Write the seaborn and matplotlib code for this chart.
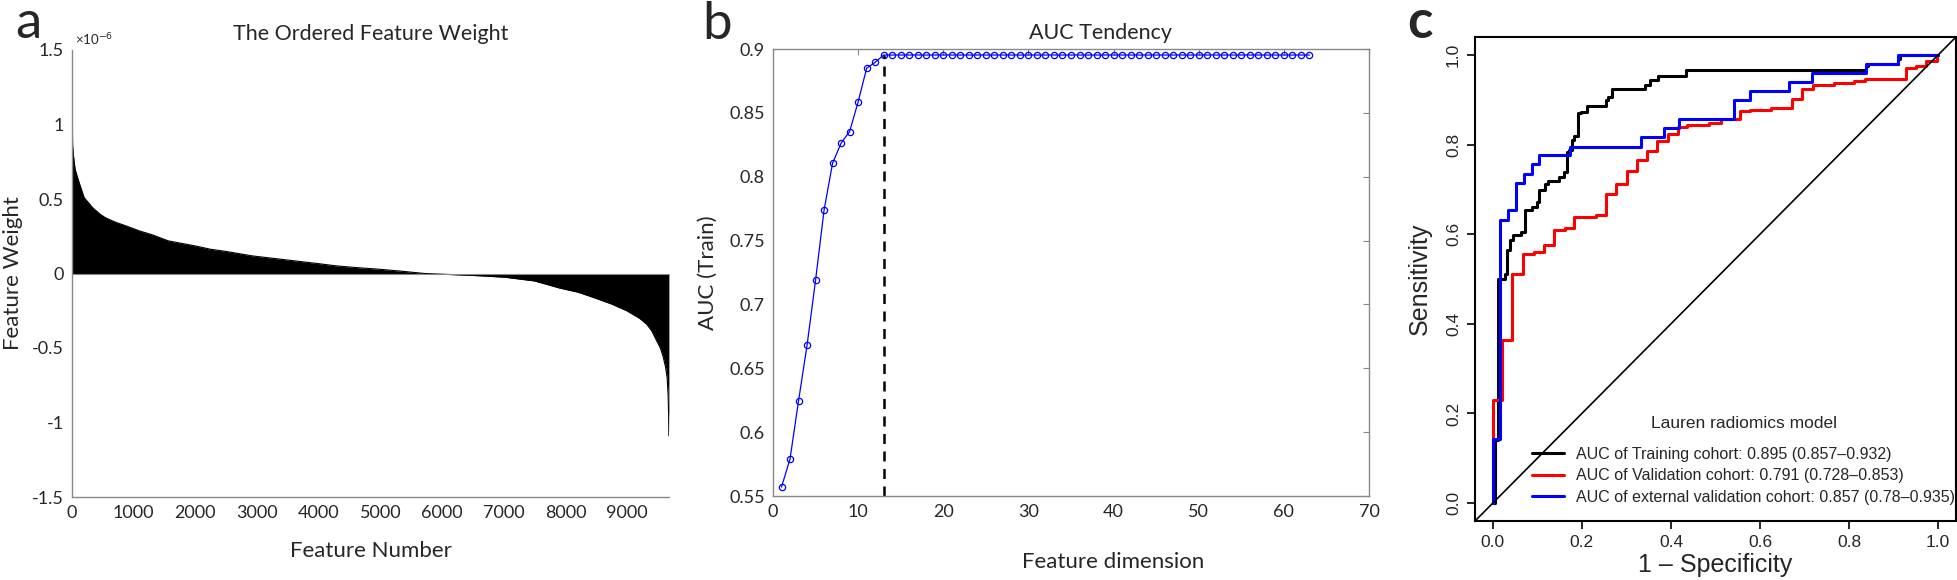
import numpy as np
import pandas as pd
import seaborn as sns
import matplotlib.pyplot as plt
from matplotlib.ticker import FuncFormatter, MultipleLocator
from matplotlib.lines import Line2D

# ---- panel a: ordered feature weights (unit 1e-6)
feat_idx = [0, 3, 10, 27, 50, 100, 197, 334, 450, 538, 700, 880, 1100, 1300,
            1562, 2000, 2243, 2500, 2926, 3300, 3608, 4000, 4290, 4600, 4972,
            5300, 5721, 6200, 6600, 7018, 7500, 7909, 8200, 8457, 8750, 8995,
            9200, 9317, 9400, 9478, 9540, 9586, 9625, 9650, 9666, 9674, 9678]
feat_w = [1.18, 1.05, 0.86, 0.777, 0.70, 0.63, 0.509, 0.442, 0.40, 0.375,
          0.345, 0.319, 0.285, 0.26, 0.219, 0.185, 0.163, 0.148, 0.118, 0.10,
          0.085, 0.066, 0.051, 0.040, 0.029, 0.017, 0.0, -0.008, -0.015,
          -0.025, -0.05, -0.098, -0.125, -0.161, -0.205, -0.25, -0.30, -0.34,
          -0.385, -0.45, -0.50, -0.56, -0.63, -0.70, -0.82, -0.95, -1.09]
n_features = 9680

# ---- panel b: AUC tendency
dims = list(range(1, 64))
auc_train = [0.557, 0.579, 0.6245, 0.668, 0.719, 0.774, 0.8107, 0.8263,
             0.8354, 0.8586, 0.885, 0.8896, 0.8953,
             0.8953, 0.8953, 0.8953, 0.8953, 0.8953, 0.8953, 0.8953, 0.8953,
             0.8953, 0.8953, 0.8953, 0.8953, 0.8953, 0.8953, 0.8953, 0.8953,
             0.8953, 0.8953, 0.8953, 0.8953, 0.8953, 0.8953, 0.8953, 0.8953,
             0.8953, 0.8953, 0.8953, 0.8953, 0.8953, 0.8953, 0.8953, 0.8953,
             0.8953, 0.8953, 0.8953, 0.8953, 0.8953, 0.8953, 0.8953, 0.8953,
             0.8953, 0.8953, 0.8953, 0.8953, 0.8953, 0.8953, 0.8953, 0.8953,
             0.8953, 0.8953]
best_dim = 13

# ---- panel c: ROC step corners (1 - specificity, sensitivity)
train_fpr = [0, 0.005, 0.011, 0.0275, 0.0327, 0.0394, 0.0453, 0.0638, 0.072,
             0.0884, 0.0995, 0.1047, 0.118, 0.124, 0.1477, 0.160, 0.1663,
             0.172, 0.1774, 0.182, 0.192, 0.198, 0.2123, 0.254, 0.259,
             0.2665, 0.3407, 0.353, 0.372, 0.4336, 0.838, 0.842, 0.91, 0.915,
             1.0]
train_tpr = [0, 0.14, 0.50, 0.512, 0.564, 0.586, 0.5975, 0.6045, 0.653,
             0.6607, 0.6719, 0.698, 0.7128, 0.7187, 0.7277, 0.7388, 0.7835,
             0.787, 0.8095, 0.8185, 0.8705, 0.8728, 0.885, 0.899, 0.906,
             0.925, 0.932, 0.945, 0.952, 0.9658, 0.975, 0.98, 0.99, 1.0, 1.0]
valid_fpr = [0, 0, 0.0215, 0.0438, 0.0683, 0.0921, 0.1158, 0.1381, 0.161,
             0.183, 0.2309, 0.2539, 0.2777, 0.3007, 0.3237, 0.3467, 0.369,
             0.3927, 0.4165, 0.437, 0.485, 0.5115, 0.556, 0.578, 0.625, 0.671,
             0.695, 0.719, 0.766, 0.812, 0.835, 0.927, 0.951, 0.972, 0.997,
             1.0]
valid_tpr = [0, 0.23, 0.364, 0.512, 0.556, 0.561, 0.5757, 0.610, 0.6145,
             0.638, 0.642, 0.689, 0.7128, 0.7411, 0.766, 0.7857, 0.8073,
             0.8244, 0.839, 0.843, 0.848, 0.857, 0.875, 0.878, 0.882, 0.9025,
             0.9233, 0.9338, 0.937, 0.9417, 0.946, 0.971, 0.9757, 0.9866, 1.0,
             1.0]
ext_fpr = [0, 0, 0.0165, 0.0342, 0.0512, 0.0698, 0.0869, 0.1047, 0.1737,
           0.332, 0.3838, 0.4187, 0.541, 0.577, 0.664, 0.717, 0.839, 0.91,
           1.0]
ext_tpr = [0, 0.142, 0.632, 0.653, 0.714, 0.735, 0.756, 0.776, 0.7946, 0.817,
           0.838, 0.857, 0.899, 0.9196, 0.9405, 0.959, 0.9795, 1.0, 1.0]
roc_labels = ["AUC of Training cohort: 0.895 (0.857\u20130.932)",
              "AUC of Validation cohort: 0.791 (0.728\u20130.853)",
              "AUC of external validation cohort: 0.857 (0.78\u20130.935)"]
roc_colors = ["black", "red", "blue"]

sns.set_style("white")
ab_font = ["Lato", "DejaVu Sans"]
c_font = ["Liberation Sans Narrow", "Liberation Sans", "DejaVu Sans"]
plt.rcParams["font.family"] = ab_font

fig = plt.figure(figsize=(19.58, 5.8), dpi=100)
W, H = 1958, 580
def box(l, t, r, b):
    return [l / W, 1 - b / H, (r - l) / W, (b - t) / H]

grey = "#888888"

# ================= panel a =================
ax1 = fig.add_axes(box(72, 50, 669, 497))
df_a = pd.DataFrame({"idx": feat_idx, "w": np.array(feat_w) * 1e-6})
sns.lineplot(data=df_a, x="idx", y="w", ax=ax1, color="black", lw=0.8,
             estimator=None, sort=False)
ax1.fill_between(df_a["idx"], df_a["w"], 0, color="black", lw=0)
ax1.set_xlim(0, n_features)
ax1.set_ylim(-1.5e-6, 1.5e-6)
ax1.xaxis.set_major_locator(MultipleLocator(1000))
ax1.yaxis.set_major_locator(MultipleLocator(0.5e-6))
ax1.yaxis.set_major_formatter(FuncFormatter(lambda v, p: "%g" % round(v / 1e-6, 3)))
ax1.axhline(0, color=grey, lw=0.8)
for s in ["top", "right"]:
    ax1.spines[s].set_visible(False)
for s in ["left", "bottom"]:
    ax1.spines[s].set_color(grey)
    ax1.spines[s].set_linewidth(1.0)
ax1.tick_params(direction="in", length=4, color=grey, labelsize=13, pad=6)
ax1.set_title("The Ordered Feature Weight", fontsize=15.5, pad=7)
ax1.set_xlabel("Feature Number", fontsize=16, labelpad=14)
ax1.set_ylabel("Feature Weight", fontsize=16, labelpad=6)
ax1.text(0.005, 1.005, "\u00d710$^{-6}$", transform=ax1.transAxes,
         fontsize=9.5, ha="left", va="bottom")
fig.text(15 / W, 1 - 38 / H, "a", fontsize=38, ha="left", va="baseline")

# ================= panel b =================
ax2 = fig.add_axes(box(773, 49, 1369, 496))
df_b = pd.DataFrame({"dim": dims, "auc": auc_train})
sns.lineplot(data=df_b, x="dim", y="auc", ax=ax2, color="blue", lw=0.9,
             marker="o", markersize=4.5, markerfacecolor="none",
             markeredgecolor="blue", markeredgewidth=0.9)
best_auc = df_b.loc[df_b["dim"] == best_dim, "auc"].iloc[0]
ax2.vlines(best_dim, 0.55, best_auc, colors="black", linestyles=(0, (4, 3)),
           lw=1.8)
ax2.set_xlim(0, 70)
ax2.set_ylim(0.55, 0.9)
ax2.xaxis.set_major_locator(MultipleLocator(10))
ax2.yaxis.set_major_locator(MultipleLocator(0.05))
ax2.yaxis.set_major_formatter(FuncFormatter(lambda v, p: "%g" % round(v, 3)))
for s in ax2.spines.values():
    s.set_color(grey)
    s.set_linewidth(1.0)
ax2.tick_params(direction="in", length=4, color=grey, labelsize=13, pad=6,
                top=True, right=True)
ax2.set_title("AUC Tendency", fontsize=15.5, pad=7, x=0.55)
ax2.set_xlabel("Feature dimension", fontsize=16, labelpad=14)
ax2.xaxis.set_label_coords(0.57, -0.125)
ax2.set_ylabel("AUC (Train)", fontsize=16, labelpad=8)
fig.text(702 / W, 1 - 39 / H, "b", fontsize=38, ha="left", va="baseline")

# ================= panel c =================
ax3 = fig.add_axes(box(1475, 37, 1956, 521))
for fpr, tpr, col in zip([train_fpr, valid_fpr, ext_fpr],
                         [train_tpr, valid_tpr, ext_tpr], roc_colors):
    df_c = pd.DataFrame({"fpr": fpr, "tpr": tpr})
    sns.lineplot(data=df_c, x="fpr", y="tpr", ax=ax3, color=col, lw=2.2,
                 drawstyle="steps-post", estimator=None, sort=False)
ax3.axline((0, 0), slope=1, color="black", lw=1.2)
ax3.set_xlim(-0.04, 1.04)
ax3.set_ylim(-0.04, 1.04)
ax3.set_xticks(np.arange(0, 1.01, 0.2))
ax3.set_yticks(np.arange(0, 1.01, 0.2))
ax3.set_xticklabels(["%.1f" % v for v in np.arange(0, 1.01, 0.2)],
                    family=c_font, fontsize=12.5)
ax3.set_yticklabels(["%.1f" % v for v in np.arange(0, 1.01, 0.2)],
                    family=c_font, fontsize=12.5, rotation=90, va="center")
for s in ax3.spines.values():
    s.set_color("black")
    s.set_linewidth(1.5)
ax3.tick_params(direction="out", length=6, width=1.2, color="black", pad=4,
                left=True, bottom=True)
ax3.set_xlabel("1 \u2013 Specificity", family=c_font, fontsize=18, labelpad=2)
ax3.set_ylabel("Sensitivity", family=c_font, fontsize=18, labelpad=10)
handles = [Line2D([], [], color=c, lw=2.2) for c in roc_colors]
leg = ax3.legend(handles, roc_labels, title="Lauren radiomics model",
                 loc="lower right", bbox_to_anchor=(1.012, 0.02),
                 frameon=False,
                 prop={"family": c_font, "size": 11.5},
                 title_fontproperties={"family": c_font, "size": 12.5},
                 handlelength=2.0, handletextpad=0.8, labelspacing=0.42,
                 borderaxespad=0.1, borderpad=0.3)
leg._legend_box.sep = 11
fig.text(1407 / W, 1 - 38 / H, "c", fontsize=38, ha="left", va="baseline",
         fontweight="bold")

fig.savefig("out.png", dpi=100)
